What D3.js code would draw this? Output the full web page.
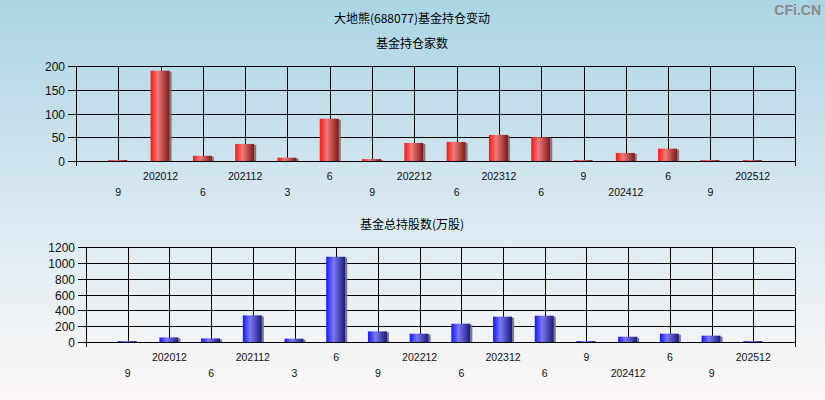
<!DOCTYPE html>
<html><head><meta charset="utf-8">
<script src="https://cdn.jsdelivr.net/npm/d3@7/dist/d3.min.js"></script>
<style>body{margin:0;padding:0;overflow:hidden}svg{display:block}</style>
</head><body>
<svg id="c" width="825" height="400"></svg>
<script>
const categories = ["202009","202012","202106","202112","202203","202206","202209","202212","202306","202312","202406","202409","202412","202506","202509","202512"];
const tickLabels = ["9","202012","6","202112","3","6","9","202212","6","202312","6","9","202412","6","9","202512"];
const fundCount = [2,190,11,36,7,89,4,38,40,55,50,2,17,26,2,2];
const fundShares = [12,58,45,336,42,1077,134,105,231,320,332,12,67,105,80,12];
const countTicks = [0,50,100,150,200];
const sharesTicks = [0,200,400,600,800,1000,1200];

const svg = d3.select("#c");
const defs = svg.append("defs");
const bg = defs.append("linearGradient").attr("id","bg").attr("x1",0).attr("y1",0).attr("x2",0).attr("y2",1);
bg.append("stop").attr("offset","0%").attr("stop-color","#abd5e4");
bg.append("stop").attr("offset","45%").attr("stop-color","#d2e5ee");
bg.append("stop").attr("offset","75%").attr("stop-color","#eaf0f4");
bg.append("stop").attr("offset","100%").attr("stop-color","#fdf8f7");
function barGrad(id, c0, c1, c2){
  const g = defs.append("linearGradient").attr("id",id).attr("x1",0).attr("y1",0).attr("x2",1).attr("y2",0);
  g.append("stop").attr("offset","0%").attr("stop-color",c0);
  g.append("stop").attr("offset","38%").attr("stop-color",c1);
  g.append("stop").attr("offset","100%").attr("stop-color",c2);
}
barGrad("gr","#ff1414","#f07a7a","#7c1616");
barGrad("gb","#1414ff","#7a7af2","#18187c");

svg.append("rect").attr("width",825).attr("height",400).attr("fill","url(#bg)");

const cjk = "'Noto Sans CJK SC','Noto Sans',sans-serif";
const lat = "'Liberation Sans',Arial,sans-serif";

svg.append("text").attr("x",412).attr("y",23).attr("text-anchor","middle")
  .style("font-family",cjk).style("font-size","12px").attr("fill","#000").text("大地熊(688077)基金持仓变动");
svg.append("text").attr("x",821).attr("y",15).attr("text-anchor","end")
  .style("font-family",lat).style("font-size","14px").style("font-weight","bold").attr("fill","#8a8a8a").text("CFi.CN");

function panel(o){
  const g = svg.append("g");
  g.append("text").attr("x",412).attr("y",o.titleY).attr("text-anchor","middle")
    .style("font-family",cjk).style("font-size","12px").attr("fill","#000").text(o.title);
  const x = d3.scalePoint().domain(categories).range([o.left,o.right]).padding(1);
  const y = d3.scaleLinear().domain([0,o.max]).range([o.bottom,o.top]);
  const ln = (x1,y1,x2,y2)=>g.append("line").attr("x1",x1).attr("y1",y1).attr("x2",x2).attr("y2",y2)
     .attr("stroke","#000").attr("stroke-width",1).attr("shape-rendering","crispEdges");
  // horizontal grid + y ticks
  o.ticks.forEach(t=>{
    const yy = Math.round(y(t))+0.5;
    ln(o.left-8,yy,o.right,yy);
    g.append("text").attr("x",o.left-11).attr("y",yy+4.5).attr("text-anchor","end")
      .style("font-family",lat).style("font-size","12px").attr("fill","#111").text(t);
  });
  // vertical grid
  categories.forEach(c=>{ const xx=Math.round(x(c))+0.5; ln(xx,o.top,xx,o.bottom); });
  const yb = Math.round(y(0))+0.5, yt = Math.round(y(o.max))+0.5;
  ln(Math.round(o.left)+0.5,yt,Math.round(o.left)+0.5,yb+4);
  ln(Math.round(o.right)+0.5,yt,Math.round(o.right)+0.5,yb+4);
  // bars
  const vals = o.values;
  categories.forEach((c,i)=>{
    const cx = x(c), top = y(vals[i]), h = y(0)-top;
    g.append("rect").attr("x",cx+9).attr("y",top+1).attr("width",2).attr("height",Math.max(0,h-1)).attr("fill","#7a7a7a");
    g.append("rect").attr("x",cx-10).attr("y",top).attr("width",19).attr("height",h).attr("fill",o.fill);
  });
  // redraw baseline over bars
  ln(o.left,yb,o.right,yb);
  // x labels
  categories.forEach((c,i)=>{
    g.append("text").attr("x",x(c)).attr("y", i%2===0 ? o.row2 : o.row1).attr("text-anchor","middle")
      .style("font-family",lat).style("font-size","10.5px").attr("fill","#111").text(tickLabels[i]);
  });
}
panel({title:"基金持仓家数",titleY:48,left:76,right:795,top:66,bottom:161,max:200,ticks:countTicks,values:fundCount,fill:"url(#gr)",row1:180,row2:196});
panel({title:"基金总持股数(万股)",titleY:229,left:86,right:795,top:247,bottom:342,max:1200,ticks:sharesTicks,values:fundShares,fill:"url(#gb)",row1:361,row2:377});
</script>
</body></html>
